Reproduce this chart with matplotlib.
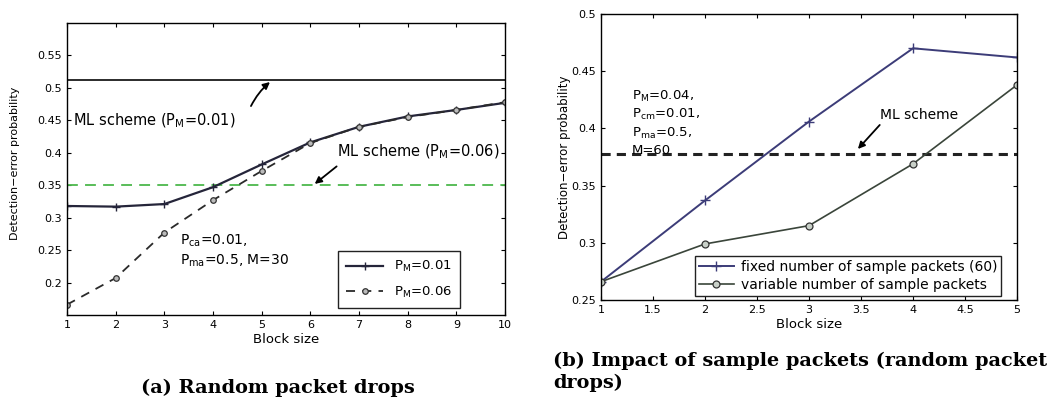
import matplotlib
matplotlib.use("Agg")
import matplotlib.pyplot as plt

plt.rcParams['font.family'] = ['DejaVu Sans']
plt.rcParams['mathtext.fontset'] = 'dejavusans'

# ---- data: panel (a) ----
block_a = [1, 2, 3, 4, 5, 6, 7, 8, 9, 10]
pm001 = [0.318, 0.317, 0.321, 0.347, 0.382, 0.416, 0.440, 0.456, 0.466, 0.477]
pm006 = [0.166, 0.207, 0.277, 0.327, 0.372, 0.415, 0.440, 0.455, 0.466, 0.478]
ml_pm001 = 0.512
ml_pm006 = 0.351
yticks_a = [0.2, 0.25, 0.3, 0.35, 0.4, 0.45, 0.5, 0.55]
ytick_labels_a = ['0.2', '0.25', '0.3', '0.35', '0.4', '0.45', '0.5', '0.55']

# ---- data: panel (b) ----
block_b = [1, 2, 3, 4, 5]
fixed60 = [0.266, 0.337, 0.406, 0.470, 0.462]
variable = [0.266, 0.299, 0.315, 0.369, 0.438]
ml_b = 0.378
xticks_b = [1, 1.5, 2, 2.5, 3, 3.5, 4, 4.5, 5]
xtick_labels_b = ['1', '1.5', '2', '2.5', '3', '3.5', '4', '4.5', '5']
yticks_b = [0.25, 0.3, 0.35, 0.4, 0.45, 0.5]
ytick_labels_b = ['0.25', '0.3', '0.35', '0.4', '0.45', '0.5']

fig = plt.figure(figsize=(10.55, 4.09), dpi=100)

fs_tick = 8
fs_ann = 10
ax1 = fig.add_axes([0.0635, 0.2298, 0.4152, 0.714])
ax1.axhline(ml_pm001, color='#1a1a1a', lw=1.3)
ax1.axhline(ml_pm006, color='#4cb84c', lw=1.3, ls=(0, (6, 4)))
ax1.plot(block_a, pm001, color='#25253a', lw=1.6, marker='+', ms=6, mew=1.0,
         label=r'$\mathregular{P_M}$=0.01')
ax1.plot(block_a, pm006, color='#2a2a2a', lw=1.3, ls=(0, (5, 4)), marker='o', ms=4,
         mfc='#bbbbbb', mec='#333333', mew=0.9, label=r'$\mathregular{P_M}$=0.06')
ax1.set_xlim(1, 10)
ax1.set_ylim(0.15, 0.6)
ax1.set_xticks(block_a)
ax1.set_yticks(yticks_a)
ax1.set_yticklabels(ytick_labels_a)
ax1.tick_params(direction='in', top=True, right=True, labelsize=fs_tick, length=3)
ax1.set_xlabel('Block size', fontsize=9.5, labelpad=2)
ax1.set_ylabel('Detection\u2212error probability', fontsize=8)
ax1.yaxis.set_label_coords(-0.108, 0.52)
leg1 = ax1.legend(loc='lower right', bbox_to_anchor=(0.897, 0.024), fontsize=9.5,
                  fancybox=False, edgecolor='#222222', framealpha=1, handlelength=2.8,
                  borderpad=0.6, labelspacing=0.8, borderaxespad=0)
leg1.get_frame().set_linewidth(1.0)
ax1.text(1.12, 0.45, r'ML scheme ($\mathregular{P_M}$=0.01)', fontsize=10.5,
         va='center')
ax1.annotate('', xy=(5.17, 0.509), xytext=(4.78, 0.472),
             arrowprops=dict(arrowstyle='-|>', color='black', lw=1.3,
                             connectionstyle='arc3,rad=-0.1', shrinkA=0, shrinkB=0))
ax1.annotate('', xy=(6.09, 0.352), xytext=(6.54, 0.379),
             arrowprops=dict(arrowstyle='-|>', color='black', lw=1.3, shrinkA=0, shrinkB=0))
ax1.text(6.54, 0.402, r'ML scheme ($\mathregular{P_M}$=0.06)', fontsize=10.5,
         va='center')
ax1.text(3.32, 0.249, r'$\mathregular{P_{ca}}$=0.01,' + '\n' + r'$\mathregular{P_{ma}}$=0.5, M=30',
         fontsize=fs_ann, va='center', linespacing=1.3)
for s in ax1.spines.values():
    s.set_linewidth(1.0)

ax2 = fig.add_axes([0.5697, 0.2665, 0.3943, 0.6993])
ax2.axhline(ml_b, color='#222222', lw=2.2, ls=(0, (3, 2)))
ax2.plot(block_b, fixed60, color='#3c3c78', lw=1.4, marker='+', ms=7, mew=1.0,
         label='fixed number of sample packets (60)')
ax2.plot(block_b, variable, color='#3a453a', lw=1.2, marker='o', ms=5,
         mfc='#c8d0c8', mec='#333333', mew=0.9, label='variable number of sample packets')
ax2.set_xlim(1, 5)
ax2.set_ylim(0.25, 0.5)
ax2.set_xticks(xticks_b)
ax2.set_xticklabels(xtick_labels_b)
ax2.set_yticks(yticks_b)
ax2.set_yticklabels(ytick_labels_b)
ax2.tick_params(direction='in', top=True, right=True, labelsize=fs_tick, length=3)
ax2.set_xlabel('Block size', fontsize=9.5, labelpad=2)
ax2.set_ylabel('Detection\u2212error probability', fontsize=8.5)
ax2.yaxis.set_label_coords(-0.072, 0.5)
leg2 = ax2.legend(loc='lower right', bbox_to_anchor=(0.962, 0.014), fontsize=10,
                  fancybox=False, edgecolor='#222222', framealpha=1, handlelength=2.5,
                  borderpad=0.3, labelspacing=0.25, handletextpad=0.5, borderaxespad=0)
leg2.get_frame().set_linewidth(1.0)
ax2.annotate('', xy=(3.47, 0.382), xytext=(3.68, 0.403),
             arrowprops=dict(arrowstyle='-|>', color='black', lw=1.3, shrinkA=0, shrinkB=0))
ax2.text(3.68, 0.412, 'ML scheme', fontsize=fs_ann, va='center')
ax2.text(1.30, 0.405,
         r'$\mathregular{P_M}$=0.04,' + '\n' + r'$\mathregular{P_{cm}}$=0.01,' + '\n' +
         r'$\mathregular{P_{ma}}$=0.5,' + '\n' + 'M=60',
         fontsize=fs_ann - 0.5, va='center', linespacing=1.3)
for s in ax2.spines.values():
    s.set_linewidth(1.0)

cap_font = dict(fontsize=13.9, fontweight='bold', family='DejaVu Serif')
fig.text(0.263, 0.052, '(a) Random packet drops', ha='center', va='center', **cap_font)
fig.text(0.524, 0.117, '(b) Impact of sample packets (random packet', ha='left',
         va='center', **cap_font)
fig.text(0.524, 0.064, 'drops)', ha='left', va='center', **cap_font)

fig.savefig('out.png', dpi=100)
